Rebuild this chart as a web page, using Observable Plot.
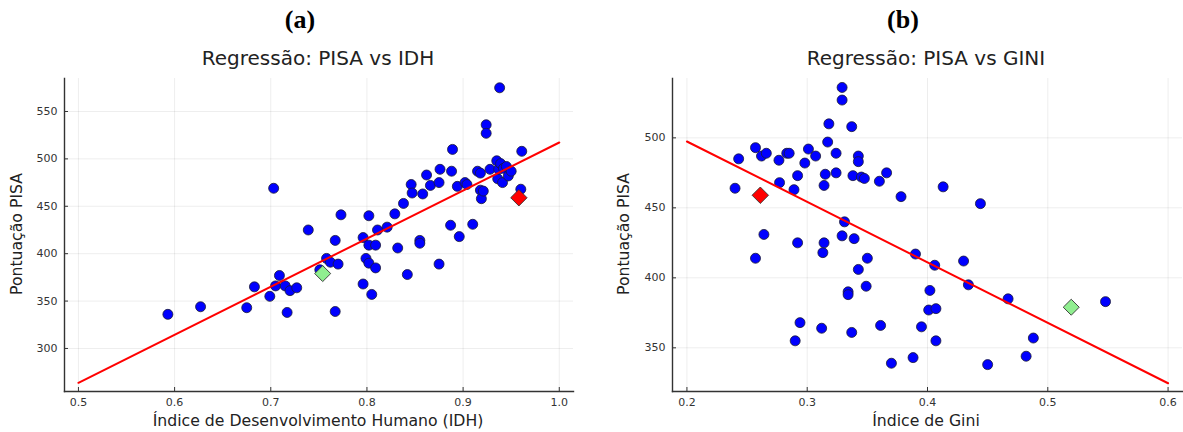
<!DOCTYPE html>
<html><head><meta charset="utf-8">
<script src="https://cdn.jsdelivr.net/npm/d3@7"></script>
<script src="https://cdn.jsdelivr.net/npm/@observablehq/plot@0.6"></script>
<style>
body{margin:0;background:#fff;font-family:"DejaVu Sans",sans-serif;}
#wrap{position:relative;width:1183px;height:432px;overflow:hidden;}
#wrap svg{position:absolute;top:0;}
.t{position:absolute;white-space:nowrap;color:#222;transform:translate(-50%,-50%);line-height:1;}
.tag{font-family:"Liberation Serif",serif;font-weight:bold;font-size:26px;color:#000;}
.sub{font-size:20px;}
.ax{font-size:15.7px;}
.rot{transform:translate(-50%,-50%) rotate(-90deg);}
</style></head><body><div id="wrap">
<div class="t tag" style="left:300px;top:20px">(a)</div>
<div class="t sub" style="left:318px;top:58px">Regressão: PISA vs IDH</div>
<div class="t ax" style="left:318px;top:421px">Índice de Desenvolvimento Humano (IDH)</div>
<div class="t ax rot" style="left:17px;top:234px">Pontuação PISA</div>
<div class="t tag" style="left:903px;top:20px">(b)</div>
<div class="t sub" style="left:926px;top:58px">Regressão: PISA vs GINI</div>
<div class="t ax" style="left:926px;top:421px">Índice de Gini</div>
<div class="t ax rot" style="left:624px;top:234px">Pontuação PISA</div>
</div>
<script>
// Panel (a): PISA vs IDH
const idhX = [0.593,0.627,0.675,0.683,0.699,0.703,0.705,0.709,0.715,0.717,0.720,0.727,0.739,0.751,0.758,0.762,0.767,0.767,0.770,0.773,0.796,0.796,0.799,0.802,0.802,0.802,0.805,0.809,0.809,0.811,0.821,0.829,0.832,0.838,0.842,0.846,0.847,0.855,0.855,0.858,0.862,0.866,0.875,0.875,0.876,0.887,0.888,0.889,0.894,0.896,0.902,0.904,0.910,0.915,0.918,0.918,0.919,0.921,0.924,0.924,0.928,0.935,0.936,0.937,0.938,0.939,0.941,0.942,0.945,0.947,0.950,0.960,0.961];
const idhPisa = [336,344,343,365,355,469,366,377,366,338,361,364,425,383,395,391,339,414,389,441,368,417,395,390,409,440,357,385,409,425,428,442,406,453,378,473,464,414,411,463,483,472,475,389,489,430,487,510,471,418,475,473,431,487,485,467,458,466,536,527,489,498,479,489,575,495,475,490,492,482,487,468,508];
const idhHiX = [0.754], idhHiY = [379];   // green diamond
const idhRedX = [0.958], idhRedY = [459]; // red diamond
const idhLineX = [0.5, 1.0], idhLineY = [263.8, 517.3];
const idhXTicks = [0.5,0.6,0.7,0.8,0.9,1.0];
const idhYTicks = [300,350,400,450,500,550];

// Panel (b): PISA vs GINI
const giniX = [0.240,0.243,0.257,0.257,0.262,0.264,0.266,0.2765,0.277,0.283,0.285,0.289,0.290,0.292,0.292,0.294,0.298,0.301,0.307,0.312,0.313,0.314,0.314,0.315,0.317,0.318,0.324,0.324,0.329,0.329,0.329,0.331,0.334,0.334,0.337,0.337,0.338,0.339,0.3425,0.3425,0.3425,0.345,0.3475,0.349,0.350,0.360,0.361,0.366,0.370,0.378,0.388,0.390,0.395,0.401,0.402,0.406,0.407,0.407,0.413,0.430,0.434,0.444,0.450,0.467,0.482,0.488,0.548];
const giniPisa = [464,485,493,414,487,431,489,484,468,489,489,463,355,473,425,368,482,492,487,364,418,425,466,474,497,510,489,475,536,527,430,440,390,388,508,361,473,428,487,483,406,472,471,394,414,469,366,475,339,458,343,417,365,377,391,409,355,378,465,412,395,453,338,385,344,357,383];
const giniHiX = [0.5195], giniHiY = [379];
const giniRedX = [0.261], giniRedY = [459];
const giniLineX = [0.2, 0.6], giniLineY = [497.4, 324.7];
const giniXTicks = [0.2,0.3,0.4,0.5,0.6];
const giniYTicks = [350,400,450,500];

function panel(o) {
  const pts = o.xs.map((x, i) => ({x, y: o.ys[i]}));
  const line = o.lx.map((x, i) => ({x, y: o.ly[i]}));
  const green = o.gx.map((x, i) => ({x, y: o.gy[i]}));
  const red = o.rx.map((x, i) => ({x, y: o.ry[i]}));
  const fmt = d3.format(o.xfmt);
  const svg = Plot.plot({
    width: o.width, height: 432,
    marginLeft: o.ml, marginRight: o.mr, marginTop: 78, marginBottom: 41,
    style: {fontFamily: "DejaVu Sans", fontSize: "11px", color: "#333", background: "transparent"},
    x: {domain: o.xd},
    y: {domain: o.yd},
    marks: [
      Plot.gridX(o.xt, {stroke: "#000", strokeOpacity: 0.07, strokeWidth: 1}),
      Plot.gridY(o.yt, {stroke: "#000", strokeOpacity: 0.07, strokeWidth: 1}),
      Plot.axisX(o.xt, {tickSize: 0, tickPadding: 7, tickFormat: fmt, label: null, fill: "#333"}),
      Plot.axisY(o.yt, {tickSize: 0, tickPadding: 7, label: null, fill: "#333"}),
      Plot.axisX(o.xt, {tickSize: -4, fill: "none", label: null, stroke: "#333"}),
      Plot.axisY(o.yt, {tickSize: -4, fill: "none", label: null, stroke: "#333"}),
      Plot.frame({anchor: "left", stroke: "#333", strokeWidth: 1.4}),
      Plot.frame({anchor: "bottom", stroke: "#333", strokeWidth: 1.4}),
      Plot.dot(pts, {x: "x", y: "y", r: 5, fill: "#0000ff", stroke: "#1a1a33", strokeWidth: 0.8}),
      Plot.line(line, {x: "x", y: "y", stroke: "#ff0000", strokeWidth: 2}),
      Plot.dot(green, {x: "x", y: "y", symbol: "diamond2", r: 7.2, fill: "#90ee90", stroke: "#333", strokeWidth: 0.9}),
      Plot.dot(red, {x: "x", y: "y", symbol: "diamond2", r: 7.4, fill: "#ff0000", stroke: "#333", strokeWidth: 0.9})
    ]
  });
  svg.style.left = o.left + "px";
  return svg;
}

const wrap = document.getElementById("wrap");
wrap.appendChild(panel({xs: idhX, ys: idhPisa, gx: idhHiX, gy: idhHiY, rx: idhRedX, ry: idhRedY,
  lx: idhLineX, ly: idhLineY, xt: idhXTicks, yt: idhYTicks, xfmt: ".1f",
  xd: [0.4855, 1.0148], yd: [254.6, 584.8], width: 591, ml: 64, mr: 18, left: 0}));
wrap.appendChild(panel({xs: giniX, ys: giniPisa, gx: giniHiX, gy: giniHiY, rx: giniRedX, ry: giniRedY,
  lx: giniLineX, ly: giniLineY, xt: giniXTicks, yt: giniYTicks, xfmt: ".1f",
  xd: [0.188, 0.612], yd: [318.8, 542.4], width: 592, ml: 81, mr: 1, left: 591}));
</script>
</body></html>
